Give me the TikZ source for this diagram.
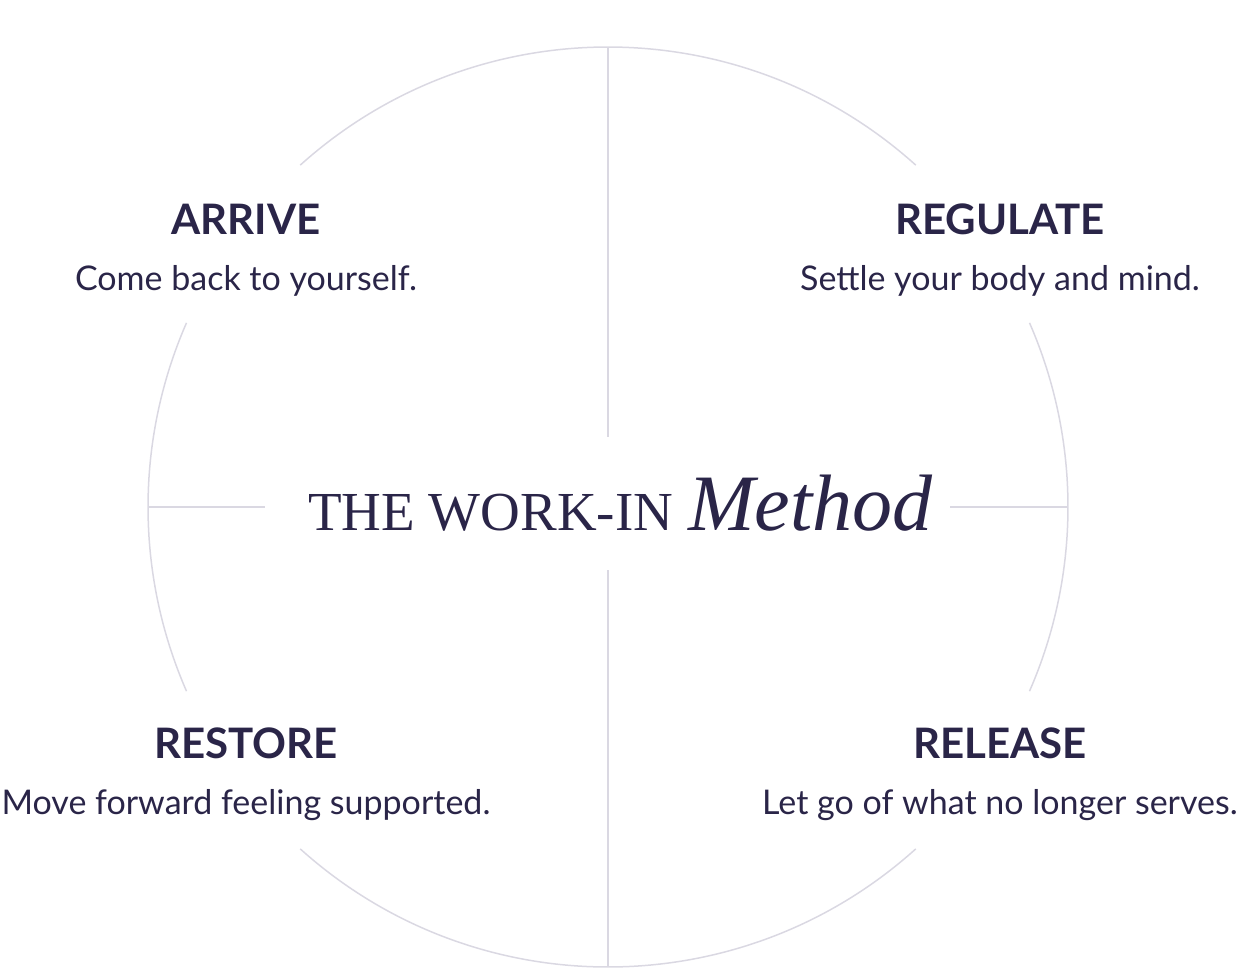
\documentclass[tikz,border=0pt]{standalone}
\usepackage{fontspec}
\setmainfont{Lato}
\newfontfamily\serifface{Liberation Serif}
\definecolor{ink}{HTML}{2A2548}
\definecolor{rule}{HTML}{DAD8E2}
\begin{document}
\begin{tikzpicture}[x=1pt,y=-1pt,
  ring/.style={draw=rule,line width=1.5pt},
  head/.style={text=ink,font=\fontsize{42}{44}\selectfont\bfseries,anchor=center},
  sub/.style={text=ink,font=\fontsize{34}{36}\selectfont,anchor=center}]
\useasboundingbox (0,0) rectangle (1246,969);
\coordinate (c) at (608,507);
\draw[ring] (c) ++(132:460) arc[start angle=132,end angle=48,radius=460];
\draw[ring] (c) ++(23.6:460) arc[start angle=23.6,end angle=-23.6,radius=460];
\draw[ring] (c) ++(-48:460) arc[start angle=-48,end angle=-132,radius=460];
\draw[ring] (c) ++(-156.4:460) arc[start angle=-156.4,end angle=-203.6,radius=460];
\coordinate (t) at (608,47); \coordinate (t2) at (608,437);
\coordinate (b) at (608,967); \coordinate (b2) at (608,570);
\coordinate (l) at (148,507); \coordinate (l2) at (265,507);
\coordinate (r) at (1068,507); \coordinate (r2) at (950,507);
\draw[ring] (t)--(t2); \draw[ring] (b)--(b2); \draw[ring] (l)--(l2); \draw[ring] (r)--(r2);
\node[head] (h1) at (246,219) {ARRIVE};
\node[sub] (s1) at (246,281) {Come back to yourself.};
\node[head] (h2) at (1000,219) {REGULATE};
\node[sub] (s2) at (1000,281) {Settle your body and mind.};
\node[head] (h3) at (246,743) {RESTORE};
\node[sub] (s3) at (246,805) {Move forward feeling supported.};
\node[head] (h4) at (1000,743) {RELEASE};
\node[sub] (s4) at (1000,805) {Let go of what no longer serves.};
\node[text=ink,font=\serifface\fontsize{55}{60}\selectfont,anchor=base west,inner sep=0] (ti) at (308,530) {THE WORK-IN};
\node[text=ink,font=\serifface\itshape\fontsize{80}{82}\selectfont,anchor=base west,inner sep=0] (me) at (688,530) {Method};
\end{tikzpicture}
\end{document}
